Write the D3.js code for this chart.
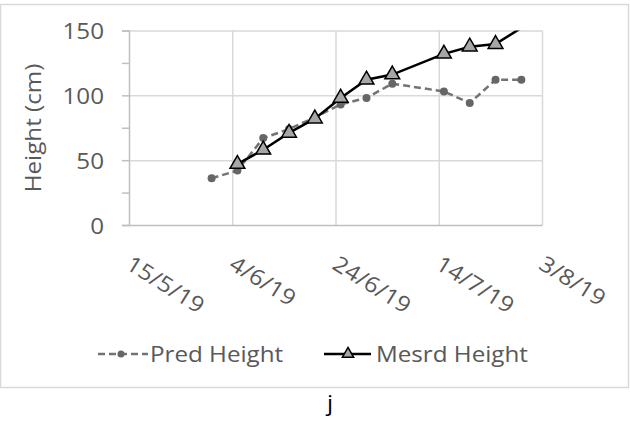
<!DOCTYPE html>
<html>
<head>
<meta charset="utf-8">
<script src="https://d3js.org/d3.v7.min.js"></script>
<style>
  html, body { margin: 0; padding: 0; background: #fff; }
  svg text { font-family: "Open Sans", "Noto Sans", sans-serif; }
</style>
</head>
<body>
<div id="chart"></div>
<script>
// data
const seriesNames = ["Pred Height", "Mesrd Height"];
const predDates = ["31/5/19", "5/6/19", "10/6/19", "15/6/19", "20/6/19", "25/6/19", "30/6/19", "5/7/19", "15/7/19", "20/7/19", "25/7/19", "30/7/19"];
const predValues = [36, 42, 67, 74, 83, 93, 98, 109, 103, 94, 112, 112];
const mesrdDates = ["5/6/19", "10/6/19", "15/6/19", "20/6/19", "25/6/19", "30/6/19", "5/7/19", "15/7/19", "20/7/19", "25/7/19", "30/7/19"];
const mesrdValues = [47, 58, 71, 82, 98, 112, 116, 132, 137.5, 139.5, 152];
const xTickLabels = ["15/5/19", "4/6/19", "24/6/19", "14/7/19", "3/8/19"];
const yTicks = [0, 50, 100, 150];
const yMinorTicks = [25, 75, 125];
const yTitle = "Height (cm)";
const caption = "j";

const W = 630, H = 428;
const margin = {top: 30.5, left: 129, right: 88, bottom: 203};
const width = W - margin.left - margin.right;
const height = H - margin.top - margin.bottom;
const fontSize = "22px";
const stretch = 1.1;   // the reference font is wide

const parse = d3.timeParse("%d/%m/%y");
const fmt = d3.timeFormat("%-d/%-m/%y");

const svg = d3.select("#chart").append("svg")
    .attr("width", W)
    .attr("height", H);

// chart border
svg.append("rect")
    .attr("x", 0.5).attr("y", 4.5)
    .attr("width", 628).attr("height", 383)
    .attr("fill", "none")
    .attr("stroke", "#d9d9d9")
    .attr("stroke-width", 1.5);

const g = svg.append("g")
    .attr("transform", `translate(${margin.left},${margin.top})`);

const x = d3.scaleTime()
    .domain([parse(xTickLabels[0]), parse(xTickLabels[xTickLabels.length - 1])])
    .range([0, width]);

const y = d3.scaleLinear()
    .domain([0, 150])
    .range([height, 0]);

// gridlines
g.append("g")
    .call(d3.axisLeft(y).tickValues(yTicks.slice(1)).tickSize(-width).tickFormat(""))
    .call(s => s.select(".domain").remove())
    .selectAll("line").attr("stroke", "#d9d9d9").attr("stroke-width", 1.5);

g.append("g")
    .attr("transform", `translate(0,${height})`)
    .call(d3.axisBottom(x).tickValues(xTickLabels.slice(1).map(parse)).tickSize(-height).tickFormat(""))
    .call(s => s.select(".domain").remove())
    .selectAll("line").attr("stroke", "#d9d9d9").attr("stroke-width", 1.5);

// x axis
const xAxis = g.append("g")
    .attr("transform", `translate(0,${height})`)
    .call(d3.axisBottom(x).tickValues(xTickLabels.map(parse)).tickSize(0).tickFormat(fmt));
xAxis.select(".domain").attr("stroke", "#bfbfbf").attr("stroke-width", 1.5);
xAxis.selectAll("text")
    .attr("y", null).attr("dy", null)
    .attr("text-anchor", "start")
    .attr("transform", `translate(-5,43) rotate(32) scale(${stretch},1)`)
    .attr("fill", "#595959")
    .style("font-size", fontSize);

// y axis
const yAxis = g.append("g")
    .call(d3.axisLeft(y).tickValues(yTicks).tickSize(7));
yAxis.select(".domain").attr("stroke", "#bfbfbf").attr("stroke-width", 1.5);
yAxis.selectAll("line").attr("stroke", "#bfbfbf").attr("stroke-width", 1.5);
yAxis.selectAll("text")
    .attr("x", null).attr("dy", null)
    .attr("text-anchor", "end")
    .attr("transform", `translate(-25,8) scale(${stretch},1)`)
    .attr("fill", "#595959")
    .style("font-size", fontSize);

g.append("g")
    .call(d3.axisLeft(y).tickValues(yMinorTicks).tickSize(7).tickFormat(""))
    .call(s => s.select(".domain").remove())
    .selectAll("line").attr("stroke", "#bfbfbf").attr("stroke-width", 1.5);

// y title
svg.append("text")
    .attr("text-anchor", "middle")
    .attr("transform", `translate(41,128) rotate(-90) scale(${stretch},1)`)
    .attr("fill", "#595959")
    .style("font-size", fontSize)
    .text(yTitle);

// clip the plot area
svg.append("defs").append("clipPath").attr("id", "plot-clip")
    .append("rect").attr("x", -2).attr("y", 0).attr("width", width + 4).attr("height", height + 4);

const pred = predDates.map((d, i) => ({date: parse(d), value: predValues[i]}));
const mesrd = mesrdDates.map((d, i) => ({date: parse(d), value: mesrdValues[i]}));

const line = d3.line().x(d => x(d.date)).y(d => y(d.value));
const plot = g.append("g").attr("clip-path", "url(#plot-clip)");

plot.append("path")
    .datum(pred)
    .attr("d", line)
    .attr("fill", "none")
    .attr("stroke", "#737373")
    .attr("stroke-width", 2.5)
    .attr("stroke-dasharray", "7,4");

plot.selectAll(".pred-dot")
    .data(pred)
    .enter().append("circle")
    .attr("class", "pred-dot")
    .attr("cx", d => x(d.date))
    .attr("cy", d => y(d.value))
    .attr("r", 4)
    .attr("fill", "#666");

plot.append("path")
    .datum(mesrd)
    .attr("d", line)
    .attr("fill", "none")
    .attr("stroke", "#000")
    .attr("stroke-width", 2.5);

const tri = d3.symbol().type(d3.symbolTriangle).size(95);
const triSmall = d3.symbol().type(d3.symbolTriangle).size(55);

// markers above the axis max are not drawn
g.selectAll(".mesrd-mark")
    .data(mesrd.filter(d => d.value <= 150))
    .enter().append("path")
    .attr("class", "mesrd-mark")
    .attr("transform", d => `translate(${x(d.date)},${y(d.value)})`)
    .attr("d", tri)
    .attr("fill", "#a6a6a6")
    .attr("stroke", "#000")
    .attr("stroke-width", 1.5);

// legend
const legend = svg.append("g");
const lg1 = legend.append("g").attr("transform", "translate(98,354)");
lg1.append("line").attr("x1", 0).attr("x2", 50)
    .attr("stroke", "#737373").attr("stroke-width", 2.5).attr("stroke-dasharray", "7,4");
lg1.append("circle").attr("cx", 23).attr("r", 3.5).attr("fill", "#666");
lg1.append("text")
    .attr("transform", `translate(52,8) scale(${stretch},1)`)
    .attr("fill", "#595959").style("font-size", fontSize)
    .text(seriesNames[0]);

const lg2 = legend.append("g").attr("transform", "translate(324,354)");
lg2.append("line").attr("x1", 0).attr("x2", 47)
    .attr("stroke", "#000").attr("stroke-width", 2.5);
lg2.append("path").attr("transform", "translate(24,0)").attr("d", triSmall)
    .attr("fill", "#a6a6a6").attr("stroke", "#000").attr("stroke-width", 1.5);
lg2.append("text")
    .attr("transform", `translate(52,8) scale(${stretch},1)`)
    .attr("fill", "#595959").style("font-size", fontSize)
    .text(seriesNames[1]);

// caption under the chart
svg.append("text")
    .attr("text-anchor", "middle")
    .attr("transform", `translate(330,411) scale(${stretch},1)`)
    .attr("fill", "#000")
    .style("font-size", fontSize)
    .text(caption);
</script>
</body>
</html>
